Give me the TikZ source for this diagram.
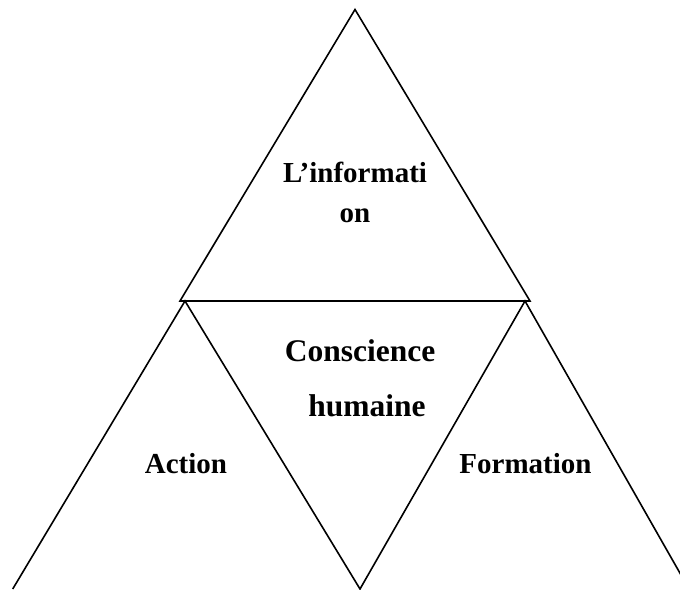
\documentclass[tikz,border=0pt]{standalone}
\usepackage{fontspec}
\setmainfont{Liberation Serif}
\begin{document}
\begin{tikzpicture}[x=1pt,y=-1pt,
  edge/.style={draw=black,line width=1.6pt,line join=miter},
  lbl/.style={anchor=base,inner sep=0pt,font=\bfseries\fontsize{29}{34}\selectfont},
  lblbig/.style={anchor=base,inner sep=0pt,font=\bfseries\fontsize{31.5}{36}\selectfont}]
\useasboundingbox (0,0) rectangle (680,589);
\clip (0,0) rectangle (680,589);
% top triangle
\coordinate (A) at (355,9.5);
\coordinate (B) at (180,301);
\coordinate (C) at (530,301);
% left triangle
\coordinate (D) at (185,301);
\coordinate (E) at (12.7,589);
\coordinate (F) at (360,589);
% right triangle
\coordinate (G) at (525,301);
\coordinate (I) at (689,589);
\draw[edge] (A) -- (B) -- (C) -- cycle;
\draw[edge] (E) -- (D) -- (F) -- (G) -- (I);
\node[lbl] (info1) at (355,182) {L’informati};
\node[lbl] (info2) at (355,222) {on};
\node[lblbig] (cons1) at (360,361.7) {Conscience};
\node[lblbig] (cons2) at (367,416.7) {humaine};
\node[lbl] (act) at (186,473) {Action};
\node[lbl] (form) at (525.5,473) {Formation};
\end{tikzpicture}
\end{document}
